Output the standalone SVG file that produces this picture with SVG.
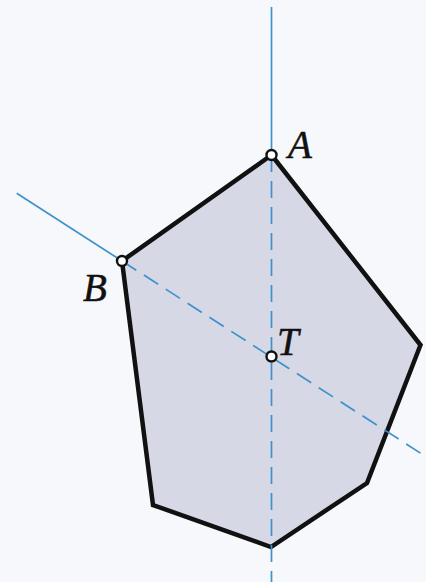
<svg xmlns="http://www.w3.org/2000/svg" width="426" height="582" viewBox="0 0 426 582">
<style>
.axis{stroke:#3d92cc;stroke-width:1.7;fill:none}
.dash{stroke-dasharray:17 9}
.poly{fill:#d6d8e5;stroke:#111;stroke-width:4.5;stroke-linejoin:miter}
.pt{fill:#fff;stroke:#111;stroke-width:2.4}
.lbl{font-family:"Liberation Serif",serif;font-style:italic;font-size:39px;fill:#111;stroke:#111;stroke-width:0.5}
</style>
<rect width="426" height="582" fill="#f6f8fb"/>
<g id="polygon">
<polygon class="poly" points="271.5,155 420.5,345 367,483 271,547 153,505 122,261"/>
</g>
<g id="connectors">
<line class="axis" x1="271.5" y1="7" x2="271.5" y2="155"/>
<line class="axis dash" x1="271.5" y1="155" x2="271.5" y2="582"/>
<line class="axis" x1="16.7" y1="193.3" x2="122" y2="261"/>
<line class="axis dash" x1="122" y1="261" x2="426" y2="456.7"/>
</g>
<g id="A">
<circle class="pt" cx="271.5" cy="155" r="5"/>
<text class="lbl" x="288" y="158">A</text>
</g>
<g id="B">
<circle class="pt" cx="122" cy="261" r="5"/>
<text class="lbl" x="83" y="301">B</text>
</g>
<g id="T">
<circle class="pt" cx="271.5" cy="356.5" r="5"/>
<text class="lbl" x="277" y="355">T</text>
</g>
</svg>
